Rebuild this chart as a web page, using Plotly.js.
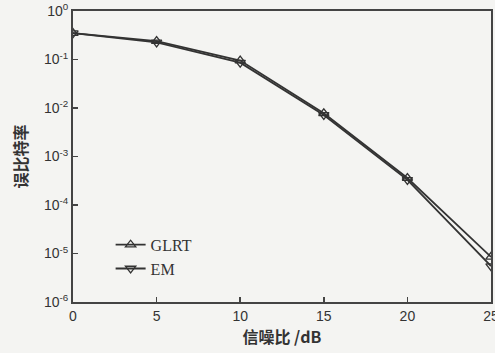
<!DOCTYPE html>
<html>
<head>
<meta charset="utf-8">
<script src="https://cdn.plot.ly/plotly-3.0.1.min.js"></script>
<style>html,body{margin:0;padding:0;background:#f4f4f2;}</style>
</head>
<body>
<div id="chart" style="width:495px;height:353px;"></div>
<script>
var snr = [0, 5, 10, 15, 20, 25];
var glrt = [0.35, 0.24, 0.095, 0.0078, 3.6e-4, 8.5e-6];
var em = [0.35, 0.225, 0.086, 0.0072, 3.3e-4, 5.5e-6];
var yTickVals = [1, 0.1, 0.01, 0.001, 1e-4, 1e-5, 1e-6];
var yTickText = ['10<sup>0</sup>', '10<sup>-1</sup>', '10<sup>-2</sup>', '10<sup>-3</sup>', '10<sup>-4</sup>', '10<sup>-5</sup>', '10<sup>-6</sup>'];
var xTickVals = [0, 5, 10, 15, 20, 25];

var lineColor = '#333333';
var traces = [
  {x: snr, y: glrt, name: 'GLRT', mode: 'lines+markers',
   line: {color: lineColor, width: 1.8},
   marker: {symbol: 'triangle-up-open', size: 9, color: lineColor, line: {width: 1.3}}},
  {x: snr, y: em, name: 'EM', mode: 'lines+markers',
   line: {color: lineColor, width: 1.8},
   marker: {symbol: 'triangle-down-open', size: 9, color: lineColor, line: {width: 1.3}}}
];

var layout = {
  width: 495, height: 353,
  margin: {l: 73, r: 4, t: 11, b: 51},
  paper_bgcolor: '#f4f4f2', plot_bgcolor: '#f4f4f2',
  font: {family: 'Liberation Sans, Arial, sans-serif', size: 14, color: '#333'},
  showlegend: true,
  legend: {x: 0.09, y: 0.255, xanchor: 'left', yanchor: 'top', bgcolor: 'rgba(0,0,0,0)',
           font: {family: 'Liberation Serif, Times New Roman, serif', size: 16, color: '#333'},
           tracegroupgap: 0},
  xaxis: {range: [0, 25], tickvals: xTickVals, ticks: 'inside', ticklen: 5, tickwidth: 1.5,
          tickcolor: '#444', showline: true, linecolor: '#444', linewidth: 2, mirror: true,
          showgrid: false, zeroline: false, ticklabeloverflow: 'allow',
          title: {text: '信噪比 /dB', font: {family: 'Noto Sans CJK SC', size: 16, color: '#333', weight: 'bold'}, standoff: 4}},
  yaxis: {type: 'log', range: [-6, 0], tickvals: yTickVals, ticktext: yTickText,
          ticks: 'inside', ticklen: 5, tickwidth: 1.5, tickcolor: '#444',
          showline: true, linecolor: '#444', linewidth: 2, mirror: true,
          showgrid: false, zeroline: false,
          title: {text: '误比特率', font: {family: 'Noto Sans CJK SC', size: 16, color: '#333', weight: 'bold'}, standoff: 12}}
};

Plotly.newPlot('chart', traces, layout, {staticPlot: true, displayModeBar: false});
</script>
</body>
</html>
